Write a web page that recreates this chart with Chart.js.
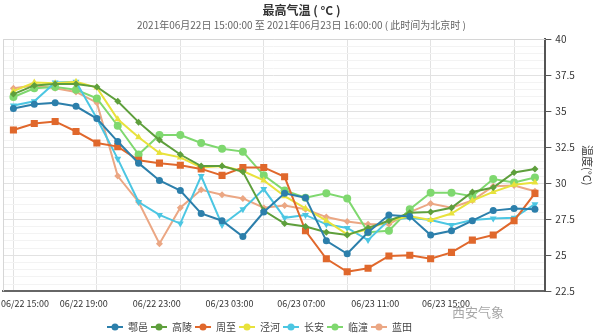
<!DOCTYPE html>
<html>
<head>
<meta charset="utf-8">
<script src="https://cdn.jsdelivr.net/npm/chart.js@4/dist/chart.umd.min.js"></script>
<style>
  html, body { margin: 0; padding: 0; background: #fff; }
  #wrap { position: relative; width: 600px; height: 335px; }
  #mark { position: absolute; left: 452px; top: 302px; font: 13px 'Noto Sans CJK SC'; color: rgba(130,130,130,0.7); }
</style>
</head>
<body>
<div id="wrap">
  <canvas id="tempChart" width="600" height="335"></canvas>
  <div id="mark">西安气象</div>
</div>
<script>
// horas (categorías)
const hours = ['06/22 15:00','06/22 16:00','06/22 17:00','06/22 18:00','06/22 19:00','06/22 20:00',
  '06/22 21:00','06/22 22:00','06/22 23:00','06/23 00:00','06/23 01:00','06/23 02:00','06/23 03:00',
  '06/23 04:00','06/23 05:00','06/23 06:00','06/23 07:00','06/23 08:00','06/23 09:00','06/23 10:00',
  '06/23 11:00','06/23 12:00','06/23 13:00','06/23 14:00','06/23 15:00','06/23 16:00'];

// etiquetas del eje x
const tickLabels = ['06/22 15:00','06/22 19:00','06/22 23:00','06/23 03:00','06/23 07:00','06/23 11:00','06/23 15:00'];

// series (°C)
const names = ['鄠邑','高陵','周至','泾河','长安','临潼','蓝田'];
const huyi    = [35.2,35.5,35.6,35.35,34.5,32.9,31.4,30.2,29.5,27.9,27.4,26.3,28.0,29.3,29.0,26.0,25.1,26.6,27.8,27.7,26.4,26.7,27.4,28.1,28.25,28.2];
const gaoling = [36.2,36.8,36.9,36.9,36.7,35.7,34.25,33.0,32.0,31.2,31.2,30.8,28.1,27.2,27.0,26.6,26.4,26.9,27.4,27.95,28.0,28.3,29.4,29.7,30.75,31.0];
const zhouzhi = [33.7,34.15,34.3,33.6,32.8,32.55,31.6,31.4,31.25,31.0,30.55,31.1,31.1,30.45,26.7,24.75,23.85,24.1,24.95,25.0,24.75,25.2,26.05,26.4,27.4,29.3];
const jinghe  = [36.4,37.0,36.95,37.05,36.65,34.45,33.2,32.1,31.8,31.1,31.2,30.85,30.2,29.1,28.25,27.4,26.45,26.8,27.4,27.7,27.45,27.9,28.8,29.4,29.9,30.05];
const changan = [35.4,35.7,37.0,37.05,34.5,31.7,28.7,27.8,27.2,30.5,27.1,28.2,29.6,27.6,27.8,27.15,26.9,26.05,27.45,27.6,27.45,27.1,27.45,27.55,27.6,28.55];
const lintong = [36.0,36.6,36.7,36.5,35.9,34.0,32.0,33.35,33.35,32.8,32.4,32.2,30.55,29.5,29.0,29.3,28.95,26.6,26.7,28.2,29.35,29.35,29.1,30.3,30.05,30.4];
const lantian = [36.6,36.8,36.6,36.35,35.6,30.5,28.7,25.8,28.3,29.55,29.2,28.95,28.3,28.45,28.2,27.65,27.35,27.15,27.15,28.0,28.6,28.3,28.8,29.8,29.85,29.45];

const series = [huyi, gaoling, zhouzhi, jinghe, changan, lintong, lantian];
const colors = ['#2c7fab','#5e9f3c','#e0682c','#e8e23c','#4cc6e2','#7fd86f','#eba784'];
const shapes = ['circle','rectRot','rect','triangle','triangle','circle','rectRot'];
const rotations = [0,0,0,0,180,0,0];
const radii = [3.5,3.5,5,4,4,4,3.5];

// posición de las etiquetas sobre el eje (en horas desde el inicio)
const labelAt = [0.55, 3.37, 6.87, 10.36, 13.8, 17.34, 20.74];

const cjk = "'Noto Sans CJK SC', 'Liberation Sans', sans-serif";

// icono de leyenda: línea + marcador
function legendIcon(i) {
  const c = document.createElement('canvas');
  c.width = 16; c.height = 10;
  const g = c.getContext('2d');
  g.strokeStyle = colors[i]; g.fillStyle = colors[i]; g.lineWidth = 2;
  g.beginPath(); g.moveTo(0, 5); g.lineTo(16, 5); g.stroke();
  g.beginPath(); g.arc(8, 5, 3.5, 0, Math.PI * 2); g.fill();
  return c;
}

// marco izquierdo y superior del área
const frame = {
  id: 'frame',
  afterLayout(chart) {
    // la leyenda del original está desplazada a la izquierda y un poco más abajo
    const lg = chart.legend;
    lg.right -= 84;
    lg.top += 3;
    lg.bottom += 3;
  },
  beforeDatasetsDraw(chart) {
    const { ctx, chartArea: a } = chart;
    ctx.save();
    ctx.strokeStyle = '#d6d6d6';
    ctx.lineWidth = 1;
    ctx.beginPath();
    ctx.moveTo(Math.round(a.left) + 0.5, a.bottom);
    ctx.lineTo(Math.round(a.left) + 0.5, Math.round(a.top) + 0.5);
    ctx.lineTo(a.right, Math.round(a.top) + 0.5);
    ctx.stroke();
    ctx.restore();
  }
};

const isMajor = v => Math.abs(v / 2.5 - Math.round(v / 2.5)) < 1e-6;

new Chart(document.getElementById('tempChart'), {
  type: 'line',
  data: {
    labels: hours,
    datasets: series.map((d, i) => ({
      label: names[i],
      data: d,
      borderColor: colors[i],
      backgroundColor: colors[i],
      borderWidth: 2,
      pointStyle: shapes[i],
      pointRotation: rotations[i],
      pointRadius: radii[i],
      pointBorderWidth: 0,
      tension: 0
    }))
  },
  options: {
    responsive: false,
    animation: false,
    devicePixelRatio: 1,
    layout: { autoPadding: false, padding: { left: 3, right: 0, top: 3, bottom: -4 } },
    plugins: {
      title: {
        display: true,
        text: '最高气温 ( °C )',
        color: '#333',
        font: { family: cjk, size: 12, weight: 'bold' },
        padding: { top: 0, bottom: 2 }
      },
      subtitle: {
        display: true,
        text: '2021年06月22日 15:00:00 至 2021年06月23日 16:00:00 ( 此时间为北京时 )',
        color: '#666',
        font: { family: cjk, size: 10 },
        padding: { top: 0, bottom: 8 }
      },
      legend: {
        position: 'bottom',
        labels: {
          usePointStyle: true,
          pointStyleWidth: 16,
          padding: 3,
          color: '#444',
          font: { family: cjk, size: 10 },
          generateLabels(chart) {
            return chart.data.datasets.map((ds, i) => ({
              text: ds.label,
              pointStyle: legendIcon(i),
              fontColor: '#444',
              datasetIndex: i,
              hidden: false,
              lineWidth: 0
            }));
          }
        }
      },
      tooltip: { enabled: false }
    },
    scales: {
      x: {
        type: 'category',
        offset: true,
        ticks: { display: false, autoSkip: false },
        grid: {
          drawTicks: false,
          color: c => (c.index % 4 === 0 ? '#e2e2e2' : 'rgba(0,0,0,0)')
        },
        border: { color: '#666', width: 2 }
      },
      xl: {
        type: 'linear',
        position: 'bottom',
        min: -0.5,
        max: 25.5,
        afterBuildTicks: axis => { axis.ticks = labelAt.map(v => ({ value: v })); },
        afterFit: axis => { axis.paddingLeft = 0; axis.paddingRight = 0; },
        ticks: {
          autoSkip: false,
          maxRotation: 0,
          padding: 7,
          color: '#333',
          font: { family: cjk, size: 9 },
          callback: (v, i) => tickLabels[i]
        },
        grid: { display: false, drawTicks: false },
        border: { display: false }
      },
      y: {
        position: 'right',
        min: 22.5,
        max: 40,
        ticks: {
          stepSize: 0.5,
          maxTicksLimit: 60,
          autoSkip: false,
          color: '#333',
          padding: 4,
          font: { family: cjk, size: 10 },
          callback: v => (isMajor(v) ? String(v) : '')
        },
        grid: {
          color: c => (isMajor(c.tick.value) ? '#e2e2e2' : '#f3f3f3'),
          tickColor: c => (isMajor(c.tick.value) ? '#555' : 'rgba(0,0,0,0)'),
          tickLength: 6
        },
        border: { color: '#555', width: 2 },
        title: {
          display: true,
          text: '温度(°C)',
          color: '#333',
          font: { family: cjk, size: 11 },
          padding: { top: 6, bottom: 2 }
        }
      }
    }
  },
  plugins: [frame]
});
</script>
</body>
</html>
